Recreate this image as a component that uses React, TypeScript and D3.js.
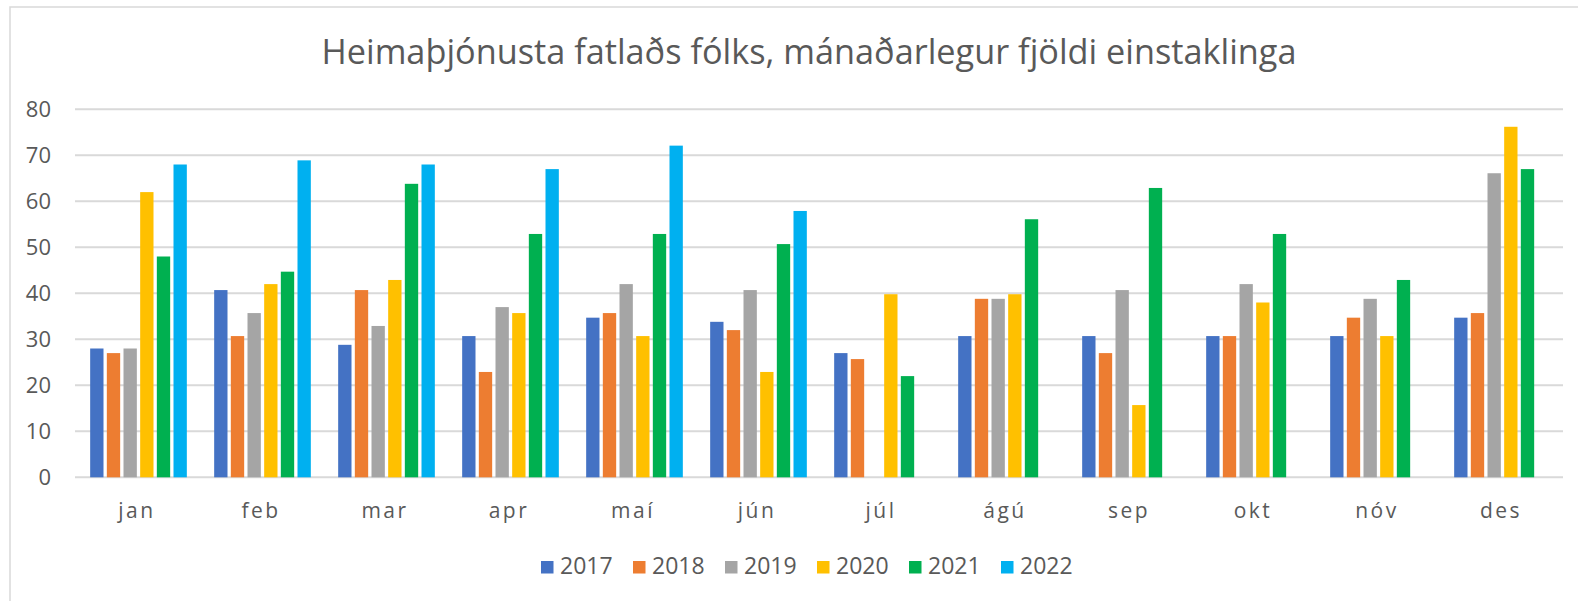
import React from "react";
import * as d3 from "d3";

const months = ["jan", "feb", "mar", "apr", "maí", "jún", "júl", "ágú", "sep", "okt", "nóv", "des"];
const years = ["2017", "2018", "2019", "2020", "2021", "2022"];
const colors = ["#4472C4", "#ED7D31", "#A5A5A5", "#FFC000", "#00B050", "#00B0F0"];

const v2017 = [28, 40.7, 28.8, 30.7, 34.7, 33.8, 27, 30.7, 30.7, 30.7, 30.7, 34.7];
const v2018 = [27, 30.7, 40.7, 22.9, 35.7, 32, 25.7, 38.8, 27, 30.7, 34.7, 35.7];
const v2019 = [28, 35.7, 32.9, 37, 42, 40.7, null, 38.8, 40.7, 42, 38.8, 66.1];
const v2020 = [62, 42, 42.9, 35.7, 30.7, 22.9, 39.8, 39.8, 15.7, 38, 30.7, 76.2];
const v2021 = [48, 44.7, 63.8, 52.9, 52.9, 50.7, 22, 56.1, 62.9, 52.9, 42.9, 67];
const v2022 = [68, 68.9, 68, 67, 72.1, 57.9, null, null, null, null, null, null];
const seriesValues = [v2017, v2018, v2019, v2020, v2021, v2022];
const yTicks = [0, 10, 20, 30, 40, 50, 60, 70, 80];

const title = "Heimaþjónusta fatlaðs fólks, mánaðarlegur fjöldi einstaklinga";

export default function App() {
  const W = 1578, H = 601;
  const left = 75, right = 1563, top = 109.3, bottom = 477.3;
  const x0 = d3.scaleBand<string>().domain(months).range([left, right]).padding(0);
  const x1 = d3.scaleBand<string>().domain(years).range([13.5, 113.5]).paddingInner(0.2).paddingOuter(0.1);
  const y = d3.scaleLinear().domain([0, 80]).range([bottom, top]);
  const font = "'Open Sans', sans-serif";
  const textColor = "#595959";
  const legendX = d3.scaleBand<string>().domain(years).range([541, 541 + 92 * 6]);

  return (
    <svg width={W} height={H} style={{ position: "absolute", left: 0, top: 0, background: "#fff" }}>
      <rect x={0} y={0} width={W} height={H} fill="#fff" />
      <rect x={10} y={7} width={W + 50} height={H + 50} fill="none" stroke="#D9D9D9" strokeWidth={1.5} />
      <text x={809} y={64} textAnchor="middle" fontFamily={font} fontSize={34.5} fill={textColor} textLength={975} lengthAdjust="spacingAndGlyphs">
        {title}
      </text>
      {yTicks.map((t) => (
        <g key={t}>
          <line x1={left} x2={right} y1={y(t)} y2={y(t)} stroke="#D9D9D9" strokeWidth={2} />
          <text x={51} y={y(t)} dy="0.36em" textAnchor="end" fontFamily={font} fontSize={22} fill={textColor}>
            {t}
          </text>
        </g>
      ))}
      {months.map((m, i) => (
        <g key={m} transform={`translate(${x0(m)},0)`}>
          {years.map((yr, s) => {
            const v = seriesValues[s][i];
            if (v == null) return null;
            return (
              <rect
                key={yr}
                x={x1(yr)}
                y={y(v)}
                width={x1.bandwidth()}
                height={y(0) - y(v)}
                fill={colors[s]}
              />
            );
          })}
          <text
            x={x0.bandwidth() / 2}
            y={518}
            textAnchor="middle"
            fontFamily={font}
            fontSize={21}
            letterSpacing={2.5}
            fill={textColor}
          >
            {m}
          </text>
        </g>
      ))}
      {years.map((yr, s) => (
        <g key={yr} transform={`translate(${legendX(yr)},0)`}>
          <rect x={0} y={561} width={12.5} height={12.5} fill={colors[s]} />
          <text x={19} y={574} fontFamily={font} fontSize={23} fill={textColor}>
            {yr}
          </text>
        </g>
      ))}
    </svg>
  );
}
